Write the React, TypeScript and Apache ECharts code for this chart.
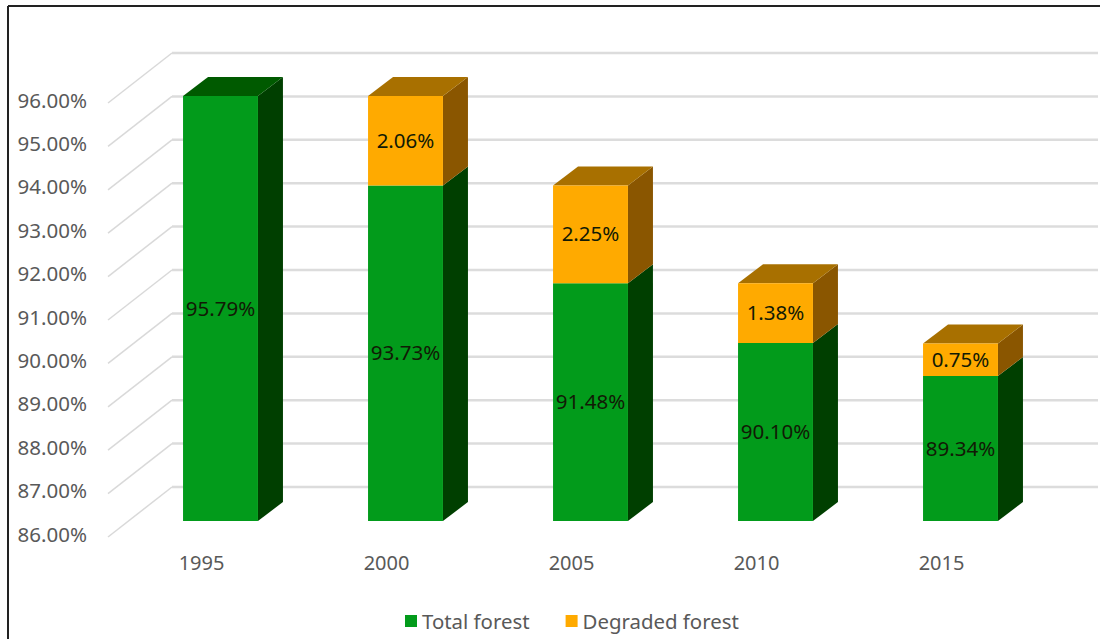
import React, { useEffect, useRef } from "react";
import * as echarts from "echarts";

const years = ["1995", "2000", "2005", "2010", "2015"];
const totalForest = [95.79, 93.73, 91.48, 90.1, 89.34];
const degradedForest = [null, 2.06, 2.25, 1.38, 0.75];
const yTicks = [86, 87, 88, 89, 90, 91, 92, 93, 94, 95, 96];

const FONT = "'Noto Sans', sans-serif";
const DEPTH_X = 25;
const DEPTH_Y = 19;

const shapes = (api: any, x0: number, x1: number, yb: number, yt: number, front: string, side: string, top: string | null, label: string) => {
  const children: any[] = [
    { type: "polygon", shape: { points: [[x1, yb], [x1 + DEPTH_X, yb - DEPTH_Y], [x1 + DEPTH_X, yt - DEPTH_Y], [x1, yt]] }, style: { fill: side } },
  ];
  if (top) {
    children.push({ type: "polygon", shape: { points: [[x0, yt], [x0 + DEPTH_X, yt - DEPTH_Y], [x1 + DEPTH_X, yt - DEPTH_Y], [x1, yt]] }, style: { fill: top } });
  }
  children.push({ type: "rect", shape: { x: x0, y: yt, width: x1 - x0, height: yb - yt }, style: { fill: front } });
  children.push({
    type: "text",
    style: { text: label, x: (x0 + x1) / 2, y: (yb + yt) / 2 - 1, align: "center", verticalAlign: "middle", fontFamily: FONT, fontSize: 20.5, fill: "#111a05" },
  });
  return { type: "group", children };
};

export default function App() {
  const ref = useRef<HTMLDivElement>(null);
  useEffect(() => {
    document.body.style.margin = "0";
    const chart = echarts.init(ref.current!, undefined, { renderer: "svg" });
    chart.setOption({
      animation: false,
      backgroundColor: "#ffffff",
      grid: { left: 128, right: 47, top: 87, height: 434 },
      legend: {
        left: 400,
        top: 606,
        itemWidth: 12,
        itemHeight: 12,
        itemGap: 36,
        icon: "rect",
        textStyle: { fontFamily: FONT, fontSize: 20.4, color: "#595959" },
        data: ["Total forest", "Degraded forest"],
      },
      xAxis: {
        type: "category",
        data: years,
        axisLine: { show: false },
        axisTick: { show: false },
        axisLabel: { fontFamily: FONT, fontSize: 20, color: "#595959", margin: 31, padding: [0, 38, 0, 0] },
      },
      yAxis: {
        type: "value",
        min: 86,
        max: 96,
        interval: 1,
        splitLine: { show: false },
        axisLine: { show: false },
        axisTick: { show: false },
        axisLabel: {
          fontFamily: FONT,
          fontSize: 20.5,
          color: "#595959",
          margin: 41,
          verticalAlign: "top",
          padding: [2, 0, 0, 0],
          formatter: (v: number) => v.toFixed(2) + "%",
        },
      },
      graphic: [
        { type: "line", shape: { x1: 8, y1: 6, x2: 8, y2: 639 }, style: { stroke: "#222222", lineWidth: 2 } },
        { type: "line", shape: { x1: 8, y1: 6, x2: 1100, y2: 6 }, style: { stroke: "#222222", lineWidth: 2 } },
      ],
      series: [
        {
          type: "custom",
          silent: true,
          z: 1,
          data: yTicks.map((v) => [0, v]),
          encode: { x: 0, y: 1 },
          renderItem: (_p: any, api: any) => {
            const y = api.coord([0, api.value(1)])[1];
            return {
              type: "group",
              children: [
                { type: "line", shape: { x1: 108, y1: y + 16, x2: 172, y2: y - 34 }, style: { stroke: "#d9d9d9", lineWidth: 1.5 } },
                { type: "line", shape: { x1: 172, y1: y - 34, x2: 1098, y2: y - 34 }, style: { stroke: "#dcdcdc", lineWidth: 2.5 } },
              ],
            };
          },
        },
        {
          name: "Total forest",
          type: "custom",
          z: 2,
          itemStyle: { color: "#029b1b" },
          data: totalForest.map((v, i) => [i, v]),
          encode: { x: 0, y: 1 },
          renderItem: (p: any, api: any) => {
            const i = p.dataIndex;
            const v = api.value(1);
            const [cx, yt] = api.coord([i, v]);
            const yb = api.coord([i, 86])[1];
            const w = api.size([1, 0])[0] * 0.405;
            const topFace = degradedForest[i] == null ? "#005a00" : null;
            return shapes(api, cx - w / 2, cx + w / 2, yb, yt, "#029b1b", "#003f00", topFace, v.toFixed(2) + "%");
          },
        },
        {
          name: "Degraded forest",
          type: "custom",
          z: 3,
          itemStyle: { color: "#ffaa00" },
          data: degradedForest.map((v, i) => [i, v]),
          encode: { x: 0, y: 1 },
          renderItem: (p: any, api: any) => {
            const i = p.dataIndex;
            const d = degradedForest[i];
            if (d == null) return null;
            const [cx, yb] = api.coord([i, totalForest[i]]);
            const yt = api.coord([i, totalForest[i] + d])[1];
            const w = api.size([1, 0])[0] * 0.405;
            return shapes(api, cx - w / 2, cx + w / 2, yb, yt, "#ffaa00", "#8a5600", "#a87000", d.toFixed(2) + "%");
          },
        },
      ],
    });
    return () => chart.dispose();
  }, []);
  return <div ref={ref} style={{ position: "absolute", left: 0, top: 0, width: 1100, height: 639 }} />;
}
